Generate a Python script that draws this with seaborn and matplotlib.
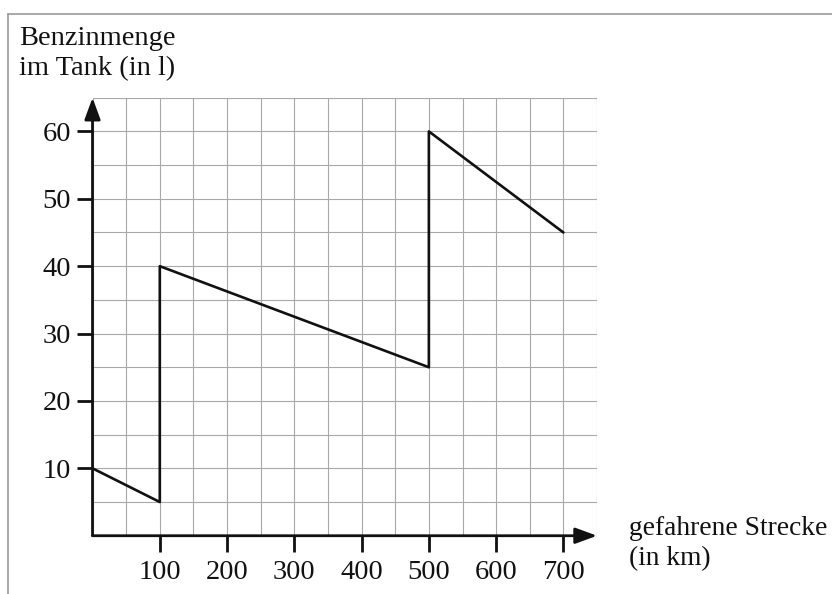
import pandas as pd
import seaborn as sns
import matplotlib.pyplot as plt
from matplotlib.lines import Line2D

# Fuel level in the tank vs. distance driven
strecke_km = [0, 100, 100, 500, 500, 700]
benzin_l = [10, 5, 40, 25, 60, 45]
x_ticks = [100, 200, 300, 400, 500, 600, 700]
y_ticks = [10, 20, 30, 40, 50, 60]

df = pd.DataFrame({"km": strecke_km, "liter": benzin_l})

sns.set_style("white")
plt.rcParams["font.family"] = ["Liberation Serif", "DejaVu Serif"]

fig = plt.figure(figsize=(8.32, 5.94), dpi=100)
ax = fig.add_axes([0.1112, 0.0981, 0.6064, 0.7374])

# Grid every 50 km / 5 l
ax.set_xticks(range(0, 751, 50), minor=True)
ax.set_yticks(range(0, 66, 5), minor=True)
ax.grid(which="both", color="#a8a8a8", linewidth=0.8)
ax.tick_params(which="minor", length=0)

sns.lineplot(data=df, x="km", y="liter", sort=False, estimator=None,
             color="#111111", linewidth=1.9, ax=ax, zorder=5)

ax.set_xlim(0, 750)
ax.set_ylim(0, 65)
ax.set_xticks(x_ticks)
ax.set_yticks(y_ticks)
ax.set_xticklabels([str(v) for v in x_ticks])
ax.set_yticklabels([str(v) for v in y_ticks])
ax.tick_params(which="major", bottom=True, left=True, direction="out",
               length=11.5, width=2, color="#111111", labelsize=20.5,
               labelcolor="#111111")
ax.tick_params(axis="x", pad=6)
ax.tick_params(axis="y", pad=4)
ax.set_xlabel("")
ax.set_ylabel("")
for s in ax.spines.values():
    s.set_visible(False)

# Axis arrows
arrow = dict(arrowstyle="-|>,head_length=0.6,head_width=0.22", color="#111111",
             lw=2, mutation_scale=22, shrinkA=0, shrinkB=0)
ax.annotate("", xy=(750, 0), xytext=(0, 0), arrowprops=arrow,
            annotation_clip=False, zorder=6)
ax.annotate("", xy=(0, 65), xytext=(0, 0), arrowprops=arrow,
            annotation_clip=False, zorder=6)

# Axis titles
fig.text(0.023, 0.924, "Benzinmenge", fontsize=20.5, color="#111111", va="baseline")
fig.text(0.023, 0.874, "im Tank (in l)", fontsize=20.5, color="#111111", va="baseline")
fig.text(0.756, 0.0993, "gefahrene Strecke", fontsize=19.8, color="#111111", va="baseline")
fig.text(0.756, 0.0488, "(in km)", fontsize=19.8, color="#111111", va="baseline")

# Frame lines (top and left)
fig.add_artist(Line2D([8 / 832, 1], [1 - 14 / 594, 1 - 14 / 594],
                      transform=fig.transFigure, color="#999999", lw=1.2))
fig.add_artist(Line2D([8 / 832, 8 / 832], [0, 1 - 14 / 594],
                      transform=fig.transFigure, color="#999999", lw=1.2))

fig.savefig("out.png", dpi=100)
plt.close()
